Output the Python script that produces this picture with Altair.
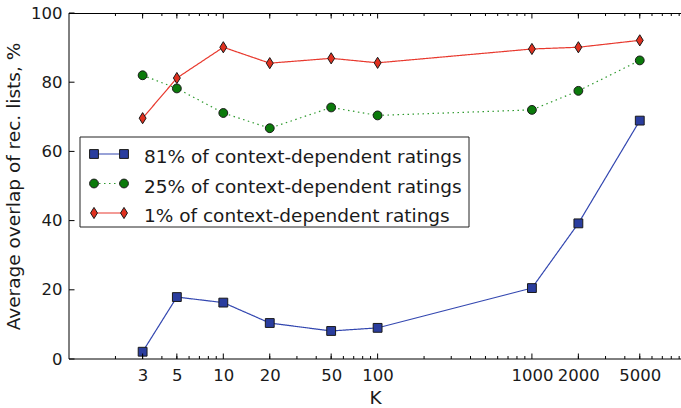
import altair as alt
import pandas as pd

# ---------------- data ----------------
K = [3, 5, 10, 20, 50, 100, 1000, 2000, 5000]
series_names = [
    "81% of context-dependent ratings",
    "25% of context-dependent ratings",
    "1% of context-dependent ratings",
]
s81 = [2.1, 17.9, 16.3, 10.4, 8.1, 9.0, 20.5, 39.2, 68.9]
s25 = [82.0, 78.2, 71.1, 66.7, 72.7, 70.4, 72.0, 77.5, 86.3]
s1 = [69.6, 81.2, 90.1, 85.5, 86.9, 85.6, 89.6, 90.1, 92.1]
y_tick_values = [0, 20, 40, 60, 80, 100]
x_tick_labels = [3, 5, 10, 20, 50, 100, 1000, 2000, 5000]
minor_ticks = [m * 10 ** e for e in range(0, 4) for m in range(2, 10)]

# ---------------- style ----------------
FONT = "DejaVu Sans"
W, H = 612, 346
line_colors = ["#3347b0", "#2e9a2e", "#e8392e"]
fill_colors = ["#2a3d9e", "#0b7a0b", "#e0301f"]
shapes = ["square", "circle", "M0,-1L0.62,0L0,1L-0.62,0Z"]
sizes = [78, 78, 125]
dashes = [[1, 0], [1.5, 3.5], [1, 0]]
legend_rows_px = [141, 170.5, 200]

rows = []
for name, vals in zip(series_names, [s81, s25, s1]):
    for k, v in zip(K, vals):
        rows.append({"K": k, "value": v, "series": name})
df = pd.DataFrame(rows)

xscale = alt.Scale(type="log", domain=[1, 9250])
yscale = alt.Scale(domain=[0, 100], nice=False, zero=False)

x_axis = alt.Axis(values=x_tick_labels, format="d", title="K",
                  ticks=False, tickSize=0, grid=False, domain=False,
                  labelFontSize=16.5, titleFontSize=18.5,
                  labelPadding=8, titlePadding=5, labelOverlap=False,
                  labelFlush=False, labelColor="#1a1a1a", titleColor="#1a1a1a",
                  titleFontWeight="normal")
y_axis = alt.Axis(values=y_tick_values, title="Average overlap of rec. lists, %",
                  ticks=False, tickSize=0, grid=False, domain=False,
                  labelFontSize=16.5, titleFontSize=18.5,
                  labelPadding=7, titlePadding=7, labelColor="#1a1a1a",
                  titleColor="#1a1a1a", titleFontWeight="normal")


def X(field):
    return alt.X(field, scale=xscale, axis=x_axis)


def Y(field):
    return alt.Y(field, scale=yscale, axis=y_axis)


base = alt.Chart(df)
layers = []
for i, name in enumerate(series_names):
    layers.append(base.transform_filter(alt.datum.series == name).mark_line(
        color=line_colors[i], strokeWidth=1.2, strokeDash=dashes[i]
    ).encode(x=X("K:Q"), y=Y("value:Q")))
for i, name in enumerate(series_names):
    layers.append(base.transform_filter(alt.datum.series == name).mark_point(
        filled=True, fill=fill_colors[i], stroke="#1a1a1a", strokeWidth=1,
        opacity=1, shape=shapes[i], size=sizes[i]
    ).encode(x=X("K:Q"), y=Y("value:Q")))

major_df = pd.DataFrame({"K": x_tick_labels})
minor_df = pd.DataFrame({"K": minor_ticks})
ytick_df = pd.DataFrame({"value": y_tick_values})
one = pd.DataFrame({"a": [0]})

for tdf, length in [(major_df, 5.5), (minor_df, 3)]:
    layers.append(alt.Chart(tdf).mark_rule(color="black", strokeWidth=1).encode(
        x=X("K:Q"), y=alt.value(H), y2=alt.value(H - length)))
    layers.append(alt.Chart(tdf).mark_rule(color="black", strokeWidth=1).encode(
        x=X("K:Q"), y=alt.value(0), y2=alt.value(length)))
layers.append(alt.Chart(ytick_df).mark_rule(color="black", strokeWidth=1).encode(
    y=Y("value:Q"), x=alt.value(0), x2=alt.value(5.5)))

# spines (left, top, bottom; the right one lies beyond the picture)
spine = alt.Chart(one).mark_rule(color="black", strokeWidth=1)
layers.append(spine.encode(x=alt.value(0), y=alt.value(0), y2=alt.value(H)))
layers.append(spine.encode(x=alt.value(0), x2=alt.value(W), y=alt.value(0.5)))
layers.append(spine.encode(x=alt.value(0), x2=alt.value(W), y=alt.value(H)))

# ---------------- legend ----------------
leg_df = pd.DataFrame({"series": series_names})
layers.append(alt.Chart(one).mark_rect(
    fill="white", stroke="#222222", strokeWidth=1
).encode(x=alt.value(11), x2=alt.value(400), y=alt.value(124), y2=alt.value(214)))
for i, name in enumerate(series_names):
    sub = alt.Chart(leg_df).transform_filter(alt.datum.series == name)
    yp = alt.value(legend_rows_px[i])
    layers.append(sub.mark_rule(color=line_colors[i], strokeWidth=1.2,
                                strokeDash=dashes[i]).encode(
        x=alt.value(25), x2=alt.value(55), y=yp))
    for xp in [25, 55]:
        layers.append(sub.mark_point(
            filled=True, fill=fill_colors[i], stroke="#1a1a1a", strokeWidth=1,
            opacity=1, shape=shapes[i], size=sizes[i]).encode(
            x=alt.value(xp), y=yp))
    layers.append(sub.mark_text(
        align="left", baseline="middle", fontSize=18.5, font=FONT,
        color="#1a1a1a", dy=3
    ).encode(x=alt.value(75), y=yp, text="series:N"))

chart = alt.layer(*layers).properties(
    width=W, height=H,
    autosize=alt.AutoSizeParams(type="none"),
    padding={"left": 69, "top": 13, "right": 0, "bottom": 49},
).configure(font=FONT).configure_view(stroke=None)

chart.save("out.html", embed_options={"renderer": "svg", "actions": False})
